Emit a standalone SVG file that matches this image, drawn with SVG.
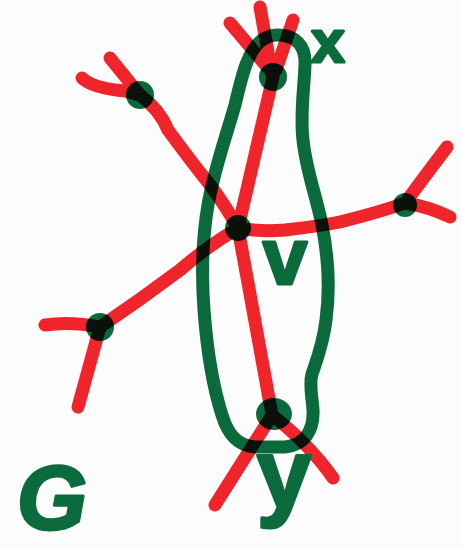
<svg xmlns="http://www.w3.org/2000/svg" width="462" height="549" viewBox="0 0 462 549">
<style>
.e{fill:none;stroke:#f0242b;stroke-width:13;stroke-linecap:round;stroke-linejoin:round}
.g{fill:none;stroke:#0b6b3c;stroke-width:13;stroke-linecap:round;stroke-linejoin:round;mix-blend-mode:multiply}
.n{fill:#0b6b3c;mix-blend-mode:multiply}
.t{font-family:"Liberation Sans",Arial,sans-serif;font-weight:bold;fill:#0b6b3c;stroke:#0b6b3c;stroke-width:3;stroke-linejoin:round;text-anchor:middle}
</style>
<rect width="462" height="549" fill="#fcfcfc"/>
<g id="connectors">
<path class="e" d="M273,77 L238,228"/>
<path class="e" d="M140,95 Q160,110 168,130 Q190,160 210,185 Q225,205 238,228"/>
<path class="e" d="M238,228 Q260,232 285,230 Q320,226 340,222 Q380,212 405,203"/>
<path class="e" d="M238,228 Q205,248 180,270 Q140,300 100,327"/>
<path class="e" d="M238,228 Q255,320 272,415"/>
<path class="e" d="M268,68 L230,23"/>
<path class="e" d="M272,75 L260,7"/>
<path class="e" d="M276,70 L293,20"/>
<path class="e" d="M82,78 Q92,88 125,91 L140,95"/>
<path class="e" d="M110,58 L140,95"/>
<path class="e" d="M405,203 Q428,172 447,147"/>
<path class="e" d="M405,203 Q430,207 450,217"/>
<path class="e" d="M100,327 Q70,321 45,325"/>
<path class="e" d="M100,327 L78,407"/>
<path class="e" d="M272,415 L215,505"/>
<path class="e" d="M272,415 Q310,445 333,478"/>
</g>
<g id="loop">
<path class="g" d="M277,35 C295,35 306,45 305,65 C304,90 300,115 303,140 C306,170 316,195 322,225 C328,255 330,290 326,320 C323,345 316,362 312,374 C309,384 312,395 313,410 C314,430 305,445 285,447 L255,447 C238,446 228,435 222,415 C214,390 207,350 204,310 C201,270 202,240 208,205 C214,170 225,140 235,105 C242,75 248,50 262,40 C268,36 272,35 277,35 Z"/>
</g>
<g id="node-x"><circle class="n" cx="273" cy="77" r="14"/><text class="t" x="328" y="62" font-size="60">x</text></g>
<g id="node-tl"><circle class="n" cx="140" cy="95" r="14"/></g>
<g id="node-v"><circle class="n" cx="238" cy="228" r="13"/><text class="t" x="285" y="284" font-size="80">v</text></g>
<g id="node-r"><circle class="n" cx="405" cy="205" r="12"/></g>
<g id="node-l"><circle class="n" cx="100" cy="327" r="14"/></g>
<g id="node-y"><ellipse class="n" cx="274" cy="414" rx="18" ry="16"/><text class="t" x="284" y="508" font-size="98">y</text></g>
<g id="label-G"><text class="t" x="52" y="529" font-size="90" font-style="italic">G</text></g>
</svg>
